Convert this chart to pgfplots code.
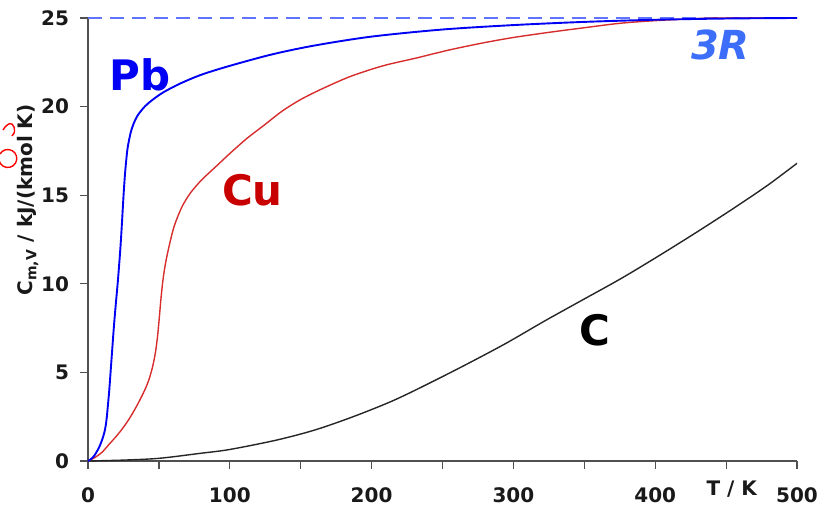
\documentclass[border=0pt]{standalone}
\usepackage{pgfplots}
\pgfplotsset{compat=1.18}
\usepackage{fontspec}
\setmainfont{DejaVu Sans}
\definecolor{pbblue}{RGB}{0,0,245}
\definecolor{curred}{RGB}{215,45,45}
\definecolor{cured}{RGB}{200,0,0}
\definecolor{dashblue}{RGB}{95,115,255}
\definecolor{rblue}{RGB}{60,110,250}
\definecolor{axgray}{RGB}{80,80,80}
\begin{document}
\begin{tikzpicture}
\useasboundingbox (0,0) rectangle (412.5pt,253pt);
\begin{axis}[
  at={(44pt,22.5pt)}, anchor=south west,
  scale only axis, width=354.5pt, height=221.5pt,
  xmin=0, xmax=500, ymin=0, ymax=25,
  axis lines*=left,
  axis line style={draw=axgray, line width=0.9pt},
  tick style={draw=axgray, line width=0.6pt},
  tick align=outside, major tick length=4pt,
  xtick={0,50,...,500},
  xticklabels={0,,100,,200,,300,,400,,500},
  ytick={0,5,...,25},
  /pgf/number format/assume math mode=true,
  tick label style={font=\bfseries\fontsize{10}{12}\selectfont, text=black!90},
  xticklabel style={yshift=-6pt},
  yticklabel style={xshift=-2pt},
  clip=false,
]
\addplot[dashblue, line width=0.6pt, dash pattern=on 7pt off 4pt] coordinates {(0,25) (500,25)};
\addplot[black!85, line width=0.7pt, smooth] coordinates {
(0,0) (25,0.05) (50,0.15) (79,0.43) (100,0.65) (133,1.18) (160,1.75) (187,2.5)
(215,3.4) (241,4.4) (268,5.5) (295,6.65) (322,7.9) (349,9.1) (376,10.3)
(403,11.6) (430,12.95) (457,14.35) (480,15.6) (500,16.8)};
\addplot[curred, line width=0.7pt, smooth] coordinates {
(0,0) (5,0.2) (10,0.5) (15,0.95) (20,1.4) (25,1.9) (30,2.5) (35,3.2) (40,4.0)
(43,4.6) (45.5,5.3) (47.5,6.1) (49,7.0) (50.3,8.1) (51.5,9.2) (53,10.3)
(55,11.3) (58,12.4) (61,13.3) (66,14.3) (72,15.1) (80,15.85) (90,16.6)
(100,17.35) (112,18.2) (125,19.0) (137,19.75) (150,20.4) (165,21.0) (185,21.7)
(208,22.3) (232,22.75) (255,23.2) (279,23.6) (300,23.9) (326,24.2) (350,24.45)
(375,24.7) (400,24.85) (434,24.98) (470,25) (500,25)};
\addplot[pbblue, line width=0.95pt, smooth] coordinates {
(0,0) (2,0.1) (4,0.25) (6,0.5) (8,0.8) (10,1.2) (11.5,1.6) (12.5,2.0) (13.3,2.5)
(14,3.1) (15,4.0) (16,5.1) (17,6.2) (18,7.3) (19,8.3) (20,9.2) (21,10.1) (22,11.1)
(23,12.2) (24,13.5) (25,14.9) (26,16.1) (27,17.0) (28,17.7) (30,18.5) (32,19.0)
(35,19.5) (40,20.0) (45,20.35) (53,20.8) (65,21.3) (80,21.8) (100,22.3) (130,22.95)
(160,23.45) (200,23.95) (250,24.35) (300,24.6) (350,24.78) (400,24.9) (450,24.97) (500,25)};
\node[font=\bfseries\fontsize{21}{24}\selectfont, text=pbblue] at (axis cs:36.7,21.8) {Pb};
\node[font=\bfseries\fontsize{21}{24}\selectfont, text=cured] at (axis cs:116,15.3) {Cu};
\node[font=\bfseries\fontsize{21}{24}\selectfont, text=black] at (axis cs:357.5,7.4) {C};
\node[font=\bfseries\itshape\fontsize{20}{24}\selectfont, text=rblue] at (axis cs:446,23.5) {3R};
\node[font=\bfseries\fontsize{10}{12}\selectfont, text=black!90] at (axis cs:454,-1.6) {T / K};
\end{axis}
\node[rotate=90, font=\bfseries\fontsize{10}{12}\selectfont, text=black!90] at (14pt,153pt) {C\textsubscript{m,V} / kJ/(kmol K)};
\draw[red, line width=0.7pt] (0pt,176pt) arc[start angle=150, end angle=-170, radius=4.5pt];
\draw[red, line width=0.7pt] (1.5pt,188pt) .. controls (4pt,192pt) and (6pt,192pt) .. (7pt,189.5pt) .. controls (7.5pt,187pt) .. (6pt,185pt);
\end{tikzpicture}
\end{document}
